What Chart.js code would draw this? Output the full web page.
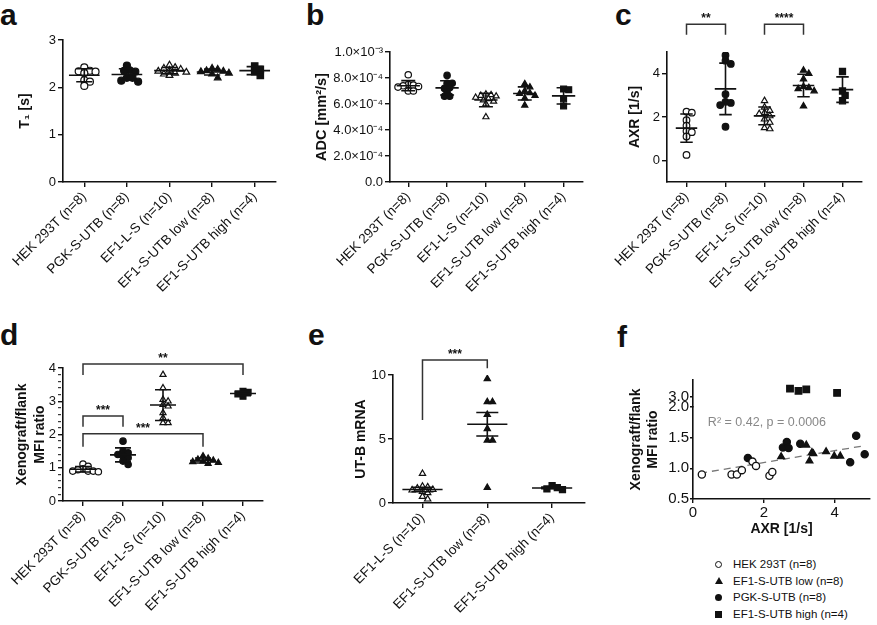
<!DOCTYPE html>
<html>
<head>
<meta charset="utf-8">
<title>UT-B reporter panels</title>
<script src="https://cdn.jsdelivr.net/npm/chart.js@4.4.1/dist/chart.umd.min.js"></script>
<style>
  body { margin: 0; width: 877px; height: 625px; position: relative; overflow: hidden; background: #fff;
         font-family: "Liberation Sans", Arial, Helvetica, sans-serif; color: #111; }
  .panel { position: absolute; }
  .tag { position: absolute; font-size: 30px; font-weight: bold; line-height: 1; }
  #legend { position: absolute; left: 713px; top: 556px; font-size: 11.5px; line-height: 16.6px; }
  #legend .row { display: flex; align-items: center; }
  #legend .sym { width: 20px; display: flex; justify-content: flex-start; padding-left: 2px; box-sizing: border-box; }
  .m-open { width: 5px; height: 5px; border: 1.5px solid #111; border-radius: 50%; }
  .m-dot { width: 7px; height: 7px; background: #111; border-radius: 50%; }
  .m-tri { width: 0; height: 0; border-left: 4px solid transparent; border-right: 4px solid transparent; border-bottom: 7px solid #111; }
  .m-sq { width: 7px; height: 7px; background: #111; }
</style>
</head>
<body>
<div class="tag" style="left:0;top:0">a</div>
<div class="tag" style="left:306px;top:0">b</div>
<div class="tag" style="left:615px;top:0">c</div>
<div class="tag" style="left:0;top:320px">d</div>
<div class="tag" style="left:308px;top:320px">e</div>
<div class="tag" style="left:617px;top:322px">f</div>

<div class="panel" style="left:0;top:30px;width:290px;height:280px"><canvas id="chartA"></canvas></div>
<div class="panel" style="left:292px;top:30px;width:300px;height:280px"><canvas id="chartB"></canvas></div>
<div class="panel" style="left:600px;top:0;width:277px;height:310px"><canvas id="chartC"></canvas></div>
<div class="panel" style="left:0;top:320px;width:290px;height:305px"><canvas id="chartD"></canvas></div>
<div class="panel" style="left:300px;top:320px;width:290px;height:305px"><canvas id="chartE"></canvas></div>
<div class="panel" style="left:600px;top:320px;width:277px;height:225px"><canvas id="chartF"></canvas></div>
<div id="legend"></div>

<script>
// Gruppen
const groups = ['HEK 293T (n=8)', 'PGK-S-UTB (n=8)', 'EF1-L-S (n=10)', 'EF1-S-UTB low (n=8)', 'EF1-S-UTB high (n=4)'];
const groupsE = ['EF1-L-S (n=10)', 'EF1-S-UTB low (n=8)', 'EF1-S-UTB high (n=4)'];

// a: T1 [s]
const t1Hek = [2.42, 2.35, 2.34, 2.33, 2.30, 2.15, 2.12, 2.03];
const t1Pgk = [2.46, 2.36, 2.35, 2.33, 2.20, 2.20, 2.14, 2.12];
const t1Ls = [2.47, 2.42, 2.40, 2.38, 2.36, 2.34, 2.32, 2.30, 2.28, 2.25];
const t1Low = [2.40, 2.38, 2.35, 2.34, 2.33, 2.30, 2.28, 2.20];
const t1High = [2.45, 2.38, 2.33, 2.25];
const t1Ticks = [0, 1, 2, 3];

// b: ADC [mm2/s]
const adcHek = [8.25e-4, 7.5e-4, 7.45e-4, 7.4e-4, 7.35e-4, 7.3e-4, 7.0e-4, 7.0e-4];
const adcPgk = [8.2e-4, 7.6e-4, 7.6e-4, 7.25e-4, 7.2e-4, 6.9e-4, 6.6e-4, 6.6e-4];
const adcLs = [6.75e-4, 6.7e-4, 6.65e-4, 6.6e-4, 6.5e-4, 6.4e-4, 6.3e-4, 6.2e-4, 6.0e-4, 5.0e-4];
const adcLow = [7.55e-4, 7.3e-4, 7.0e-4, 6.85e-4, 6.8e-4, 6.65e-4, 6.45e-4, 5.9e-4];
const adcHigh = [7.15e-4, 7.1e-4, 6.4e-4, 5.85e-4];
const adcTicks = [0, 2e-4, 4e-4, 6e-4, 8e-4, 1e-3];
const adcTickLabels = ['0.0', '2.0×10⁻⁴', '4.0×10⁻⁴', '6.0×10⁻⁴', '8.0×10⁻⁴', '1.0×10⁻³'];

// c: AXR [1/s]
const axrHek = [2.25, 2.2, 1.85, 1.6, 1.35, 1.3, 1.1, 0.25];
const axrPgk = [4.85, 4.6, 4.45, 3.05, 2.7, 2.65, 2.55, 1.55];
const axrLs = [2.75, 2.45, 2.3, 2.2, 2.15, 2.05, 1.9, 1.75, 1.5, 1.45];
const axrLow = [4.15, 4.0, 3.75, 3.4, 3.35, 3.3, 3.2, 2.5];
const axrHigh = [4.1, 3.2, 3.0, 2.75];
const axrTicks = [0, 2, 4];
// [von, bis, Höhe, Bein links, Bein rechts, Text]
const axrBrackets = [[0, 1, 6.28, 5.8, 5.8, '**'], [2, 3, 6.28, 5.8, 5.8, '****']];

// d: Xenograft/flank MFI ratio
const mfiHek = [1.11, 1.04, 0.97, 0.94, 0.90, 0.90, 0.90, 0.88];
const mfiPgk = [1.8, 1.5, 1.45, 1.4, 1.35, 1.3, 1.2, 1.1];
const mfiLs = [3.8, 3.4, 3.05, 3.0, 2.9, 2.85, 2.65, 2.5, 2.35, 2.35];
const mfiLow = [1.35, 1.28, 1.25, 1.22, 1.2, 1.18, 1.15, 1.12];
const mfiHigh = [3.3, 3.27, 3.22, 3.15];
const mfiTicks = [0, 0.2, 0.4, 0.6, 0.8, 1, 1.2, 1.4, 1.6, 1.8, 2, 2.2, 2.4, 2.6, 2.8, 3, 3.2, 3.4, 3.6, 3.8, 4];
const mfiBrackets = [[0, 4, 4.12, 3.79, 3.79, '**'], [0, 1, 2.56, 2.23, 2.23, '***'], [0, 3, 2.02, 1.63, 1.63, '***']];

// e: UT-B mRNA
const mrnaLs = [2.3, 1.3, 1.25, 1.15, 1.05, 1.0, 0.9, 0.8, 0.5, 0.3];
const mrnaLow = [9.7, 7.9, 7.9, 6.9, 5.8, 4.9, 4.9, 1.2];
const mrnaHigh = [1.35, 1.2, 1.1, 1.05];
const mrnaTicks = [0, 5, 10];
const mrnaBrackets = [[0, 1, 11.17, 6.48, 10.52, '***']];

// f: MFI ratio gegen AXR
const fHekX = [0.25, 1.09, 1.24, 1.38, 1.68, 1.78, 2.16, 2.24];
const fHekY = [0.90, 0.90, 0.90, 0.97, 1.11, 1.04, 0.88, 0.94];
const fLowX = [2.49, 3.20, 3.29, 3.36, 3.40, 3.76, 3.99, 4.16];
const fLowY = [1.19, 1.38, 1.12, 1.26, 1.24, 1.27, 1.20, 1.20];
const fPgkX = [1.55, 2.54, 2.65, 2.70, 3.03, 4.44, 4.61, 4.85];
const fPgkY = [1.17, 1.34, 1.43, 1.33, 1.40, 1.10, 1.53, 1.23];
const fHighX = [2.74, 2.98, 3.20, 4.07];
const fHighY = [3.26, 3.19, 3.24, 3.12];
const fFitX = [0.2, 4.85];
const fFitY = [0.92, 1.37];
const fTicksX = [0, 2, 4];
const fTicksLow = [0.5, 1.0, 1.5, 2.0];
const fTicksHigh = [3.0, 3.5];
const fLegend = ['HEK 293T (n=8)', 'EF1-S-UTB low (n=8)', 'PGK-S-UTB (n=8)', 'EF1-S-UTB high (n=4)'];
const fNote = 'R² = 0.42, p = 0.0006';

// Symbole je Gruppe: [Form, offen]
const markers5 = [['circle', true], ['circle', false], ['triangle', true], ['triangle', false], ['rect', false]];
const markersE = [['triangle', true], ['triangle', false], ['rect', false]];

Chart.defaults.font.family = '"Liberation Sans", Arial, Helvetica, sans-serif';
Chart.defaults.color = '#111';
Chart.defaults.animation = false;
Chart.defaults.events = [];
Chart.defaults.maintainAspectRatio = false;
Chart.defaults.plugins.legend.display = false;
Chart.defaults.plugins.tooltip.enabled = false;

const axisGrid = { display: true, drawOnChartArea: false, drawTicks: true, tickLength: 5, color: '#111', lineWidth: 1.4 };
const axisBorder = { display: true, color: '#111', width: 1.6 };

// Punkte seitlich verteilen (Beeswarm, mit etwas Überlappung)
function swarm(values, center, pxX, pxY, r) {
    const placed = [];
    const minDist = 1.45 * r;
    return values.map(v => {
        const py = v * pxY;
        let dx = 0;
        for (let k = 0; k < 30; k++) {
            dx = (k % 2 ? 1 : -1) * Math.ceil(k / 2) * r * 0.8;
            if (placed.every(p => Math.hypot(p[0] - dx, p[1] - py) >= minDist)) break;
        }
        placed.push([dx, py]);
        return { x: center + dx / pxX, y: v };
    });
}

function pairs(xs, ys) {
    return xs.map((x, i) => ({ x: x, y: ys[i] }));
}

// Mittelwert mit SD oder SEM
function meanBars(values, opt) {
    return {
        id: 'meanBars',
        afterDatasetsDraw(chart) {
            const { ctx, scales: { x, y } } = chart;
            ctx.save();
            ctx.strokeStyle = '#111';
            ctx.lineWidth = 1.6;
            values.forEach((vals, i) => {
                const n = vals.length;
                const mean = vals.reduce((a, b) => a + b, 0) / n;
                const sd = Math.sqrt(vals.reduce((a, b) => a + (b - mean) ** 2, 0) / (n - 1));
                const err = opt.sem ? sd / Math.sqrt(n) : sd;
                const xc = x.getPixelForValue(i);
                const hw = x.getPixelForValue(i + opt.meanW / 2) - xc;
                const cw = x.getPixelForValue(i + opt.capW / 2) - xc;
                const ym = y.getPixelForValue(mean);
                const yt = y.getPixelForValue(mean + err);
                const yb = y.getPixelForValue(mean - err);
                ctx.beginPath();
                ctx.moveTo(xc - hw, ym); ctx.lineTo(xc + hw, ym);
                ctx.moveTo(xc, yt); ctx.lineTo(xc, yb);
                ctx.moveTo(xc - cw, yt); ctx.lineTo(xc + cw, yt);
                ctx.moveTo(xc - cw, yb); ctx.lineTo(xc + cw, yb);
                ctx.stroke();
            });
            ctx.restore();
        }
    };
}

// Signifikanz-Klammern
function bracketLines(items) {
    return {
        id: 'bracketLines',
        afterDraw(chart) {
            const { ctx, scales: { x, y } } = chart;
            ctx.save();
            ctx.strokeStyle = '#333';
            ctx.lineWidth = 1.5;
            ctx.fillStyle = '#111';
            ctx.font = 'bold 12px "Liberation Sans", Arial, sans-serif';
            ctx.textAlign = 'center';
            ctx.textBaseline = 'alphabetic';
            items.forEach(([from, to, top, dropL, dropR, label]) => {
                const x1 = x.getPixelForValue(from);
                const x2 = x.getPixelForValue(to);
                const yt = y.getPixelForValue(top);
                ctx.beginPath();
                ctx.moveTo(x1, y.getPixelForValue(dropL));
                ctx.lineTo(x1, yt);
                ctx.lineTo(x2, yt);
                ctx.lineTo(x2, y.getPixelForValue(dropR));
                ctx.stroke();
                ctx.fillText(label, (x1 + x2) / 2, yt - 2);
            });
            ctx.restore();
        }
    };
}

function dotChart(id, cfg) {
    const datasets = cfg.values.map((vals, i) => {
        const [shape, open] = cfg.markers[i];
        return {
            data: swarm(vals, i, cfg.pxX, cfg.pxY, cfg.r),
            pointStyle: shape,
            pointRadius: shape === 'rect' ? cfg.r * 1.3 : shape === 'triangle' ? cfg.r * 1.1 : cfg.r,
            backgroundColor: open ? '#fff' : '#111',
            borderColor: '#111',
            borderWidth: 1.2
        };
    });
    new Chart(document.getElementById(id), {
        type: 'scatter',
        data: { datasets: datasets },
        options: {
            layout: { padding: cfg.padding },
            scales: {
                x: {
                    type: 'linear', min: cfg.xMin, max: cfg.xMax,
                    afterBuildTicks: s => { s.ticks = cfg.labels.map((_, i) => ({ value: i })); },
                    afterFit: s => { s.height = cfg.xH; },
                    ticks: { callback: v => cfg.labels[v], minRotation: 45, maxRotation: 45, autoSkip: false,
                             font: { size: 13.5 }, color: '#111', padding: 2 },
                    grid: axisGrid, border: axisBorder
                },
                y: {
                    type: 'linear', min: cfg.yMin, max: cfg.yMax,
                    afterBuildTicks: s => { s.ticks = cfg.yTicks.map(v => ({ value: v })); },
                    afterFit: s => { s.width = cfg.yW; },
                    ticks: { callback: cfg.yLabel, autoSkip: false, font: { size: cfg.yFont || 13 }, color: '#111', padding: 2 },
                    grid: cfg.yGrid || axisGrid, border: axisBorder,
                    title: { display: true, text: cfg.title, color: '#111', font: { size: cfg.titleSize || 14, weight: 'bold', lineHeight: 1.3 },
                             padding: { top: cfg.titlePad, bottom: 0 } }
                }
            }
        },
        plugins: [meanBars(cfg.values, cfg), bracketLines(cfg.brackets || [])]
    });
}

// a
dotChart('chartA', {
    labels: groups, markers: markers5,
    values: [t1Hek, t1Pgk, t1Ls, t1Low, t1High],
    xMin: -0.5, xMax: 4.5, yMin: 0, yMax: 3, yTicks: t1Ticks, yLabel: v => String(v),
    title: 'T₁ [s]', titlePad: 16,
    padding: { top: 10, right: 14, left: 0, bottom: 0 }, yW: 63, xH: 128,
    pxX: 42.5, pxY: 47.3, r: 3.5, meanW: 0.72, capW: 0.38
});

// b
dotChart('chartB', {
    labels: groups, markers: markers5,
    values: [adcHek, adcPgk, adcLs, adcLow, adcHigh],
    xMin: -0.47, xMax: 4.5, yMin: 0, yMax: 1e-3, yTicks: adcTicks, yLabel: (v, i) => adcTickLabels[i],
    title: 'ADC [mm²/s]', titlePad: 21, titleSize: 14.5,
    padding: { top: 22, right: 9, left: 0, bottom: 0 }, yW: 98, xH: 128,
    pxX: 38.75, pxY: 130000, r: 3.2, meanW: 0.6, capW: 0.36
});

// c
dotChart('chartC', {
    labels: groups, markers: markers5,
    values: [axrHek, axrPgk, axrLs, axrLow, axrHigh],
    xMin: -0.5, xMax: 4.5, yMin: -1, yMax: 5, yTicks: axrTicks, yLabel: v => String(v),
    title: 'AXR [1/s]', titlePad: 26, brackets: axrBrackets,
    padding: { top: 52, right: 15, left: 0, bottom: 0 }, yW: 67, xH: 128,
    pxX: 38.75, pxY: 21.5, r: 3.3, meanW: 0.55, capW: 0.32
});

// d, mit Zwischenstrichen auf der y-Achse
const isWhole = v => Math.abs(v - Math.round(v)) < 1e-6;
dotChart('chartD', {
    labels: groups, markers: markers5,
    values: [mfiHek, mfiPgk, mfiLs, mfiLow, mfiHigh],
    xMin: -0.5, xMax: 4.5, yMin: 0, yMax: 4, yTicks: mfiTicks, yLabel: v => isWhole(v) ? String(Math.round(v)) : '',
    yGrid: Object.assign({}, axisGrid, {
        tickBorderDash: c => isWhole(c.tick.value) ? [] : [3, 6],
        tickWidth: c => isWhole(c.tick.value) ? 1.4 : 1
    }),
    title: ['Xenograft/flank', 'MFI ratio'], titlePad: 13, brackets: mfiBrackets,
    padding: { top: 48, right: 27, left: 0, bottom: 0 }, yW: 63, xH: 124,
    pxX: 40, pxY: 33.25, r: 3.2, meanW: 0.65, capW: 0.4
});

// e, Mittelwert mit SEM
dotChart('chartE', {
    labels: groupsE, markers: markersE,
    values: [mrnaLs, mrnaLow, mrnaHigh],
    xMin: -0.455, xMax: 2.5, yMin: 0, yMax: 10, yTicks: mrnaTicks, yLabel: v => String(v),
    title: 'UT-B mRNA', titlePad: 52, brackets: mrnaBrackets, sem: true,
    padding: { top: 55, right: 2, left: 0, bottom: 0 }, yW: 93, xH: 122,
    pxX: 66, pxY: 12.8, r: 3.3, meanW: 0.62, capW: 0.34
});

// f: gebrochene y-Achse über zwei gestapelte Skalen
const dot = (shape, open, r) => ({ pointStyle: shape, pointRadius: r, backgroundColor: open ? '#fff' : '#111', borderColor: '#111', borderWidth: 1.3 });
const noteLabel = {
    id: 'noteLabel',
    afterDatasetsDraw(chart) {
        const { ctx, scales: { x, y } } = chart;
        ctx.save();
        ctx.fillStyle = '#888';
        ctx.font = '12.5px "Liberation Sans", Arial, sans-serif';
        ctx.textAlign = 'left';
        ctx.textBaseline = 'middle';
        ctx.fillText(fNote, x.getPixelForValue(0.42), y.getPixelForValue(1.74));
        ctx.restore();
    }
};
const fTickFont = { size: 15 };
new Chart(document.getElementById('chartF'), {
    type: 'scatter',
    data: {
        datasets: [
            Object.assign({ label: fLegend[0], data: pairs(fHekX, fHekY), yAxisID: 'y' }, dot('circle', true, 3.6)),
            Object.assign({ label: fLegend[1], data: pairs(fLowX, fLowY), yAxisID: 'y' }, dot('triangle', false, 3.9)),
            Object.assign({ label: fLegend[2], data: pairs(fPgkX, fPgkY), yAxisID: 'y' }, dot('circle', false, 3.6)),
            Object.assign({ label: fLegend[3], data: pairs(fHighX, fHighY), yAxisID: 'yTop' }, dot('rect', false, 4.6)),
            { type: 'line', data: pairs(fFitX, fFitY), yAxisID: 'y', borderColor: '#777', borderWidth: 1.3,
              borderDash: [7, 5], pointRadius: 0, fill: false }
        ]
    },
    options: {
        layout: { padding: { top: 60, right: 7, left: 0, bottom: 0 } },
        scales: {
            x: {
                type: 'linear', min: 0, max: 5,
                afterBuildTicks: s => { s.ticks = fTicksX.map(v => ({ value: v })); },
                afterFit: s => { s.height = 46; },
                ticks: { font: fTickFont, color: '#111', padding: 1 },
                grid: Object.assign({}, axisGrid, { tickLength: 4 }), border: axisBorder,
                title: { display: true, text: 'AXR [1/s]', color: '#111', font: { size: 14, weight: 'bold' }, padding: { top: 0, bottom: 7 } }
            },
            y: {
                type: 'linear', position: 'left', stack: 'f', stackWeight: 92, min: 0.5, max: 2.0,
                afterBuildTicks: s => { s.ticks = fTicksLow.map(v => ({ value: v })); },
                afterFit: s => { s.width = 48; },
                ticks: { font: fTickFont, color: '#111', padding: 1, callback: v => v.toFixed(1) },
                grid: Object.assign({}, axisGrid, { tickLength: 3 }), border: axisBorder
            },
            yTop: {
                type: 'linear', position: 'left', stack: 'f', stackWeight: 27, min: 2.65, max: 3.55,
                afterBuildTicks: s => { s.ticks = fTicksHigh.map(v => ({ value: v })); },
                afterFit: s => { s.width = 48; },
                ticks: { font: fTickFont, color: '#111', padding: 1, callback: v => v.toFixed(1) },
                grid: Object.assign({}, axisGrid, { tickLength: 3 }), border: axisBorder
            },
            yTitle: {
                type: 'linear', position: 'left', weight: 2,
                afterFit: s => { s.width = 45; },
                ticks: { display: false }, grid: { display: false }, border: { display: false },
                title: { display: true, text: ['Xenograft/flank', 'MFI ratio'], color: '#111',
                         font: { size: 14, weight: 'bold', lineHeight: 1.2 }, padding: { top: 28, bottom: 0 } }
            }
        }
    },
    plugins: [noteLabel]
});

// Legende unter Panel f
const legendMarks = ['m-open', 'm-tri', 'm-dot', 'm-sq'];
document.getElementById('legend').innerHTML = fLegend.map((t, i) =>
    '<div class="row"><span class="sym"><span class="' + legendMarks[i] + '"></span></span>' + t + '</div>').join('');
</script>
</body>
</html>
